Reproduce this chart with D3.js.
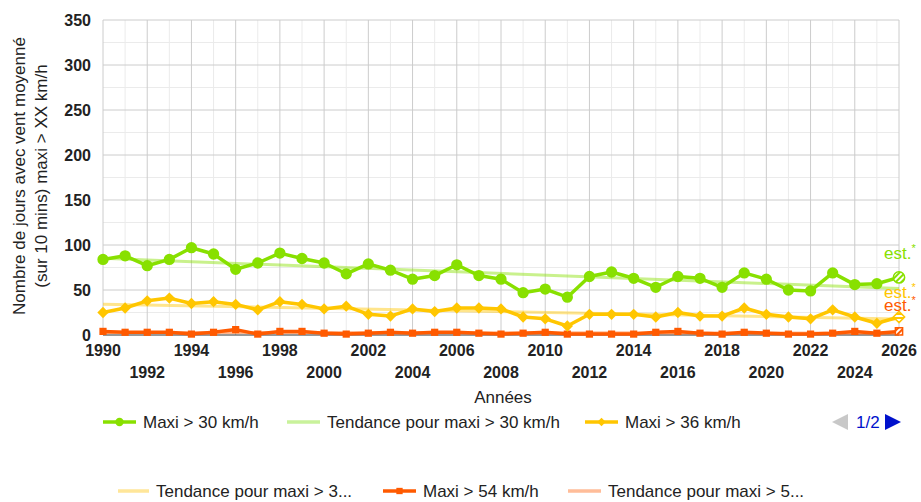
<!DOCTYPE html>
<html>
<head>
<meta charset="utf-8">
<script src="https://cdn.jsdelivr.net/npm/d3@7"></script>
<style>
  body { margin: 0; background: #fff; }
  svg text { font-family: Arial, "Liberation Sans", sans-serif; }
</style>
</head>
<body>
<svg id="chart" width="921" height="502"></svg>
<script>
// data (days per year above threshold)
const years = [1990, 1991, 1992, 1993, 1994, 1995, 1996, 1997, 1998, 1999,
    2000, 2001, 2002, 2003, 2004, 2005, 2006, 2007, 2008, 2009,
    2010, 2011, 2012, 2013, 2014, 2015, 2016, 2017, 2018, 2019,
    2020, 2021, 2022, 2023, 2024, 2025, 2026];
const maxi30 = [84, 88, 77, 84, 97, 90, 73, 80, 91, 85,
    80, 68, 79, 72, 62, 66, 78, 66, 62, 47,
    51, 42, 65, 70, 63, 53, 65, 63, 53, 69,
    62, 50, 49, 69, 56, 57, 64];
const maxi36 = [25, 30, 38, 41, 35, 37, 34, 28, 37, 34,
    29, 32, 23, 21, 29, 26, 30, 30, 29, 20,
    18, 10, 23, 23, 23, 20, 25, 21, 21, 30,
    23, 20, 18, 28, 20, 13, 20];
const maxi54 = [4, 3, 3, 3, 1, 3, 6, 1, 4, 4,
    2, 1, 2, 3, 2, 3, 3, 2, 1, 2,
    3, 1, 1, 1, 1, 3, 4, 2, 1, 3,
    2, 1, 1, 2, 4, 2, 4];
const yTickValues = [0, 50, 100, 150, 200, 250, 300, 350];
const xTickValues = [1990, 1992, 1994, 1996, 1998, 2000, 2002, 2004, 2006, 2008,
    2010, 2012, 2014, 2016, 2018, 2020, 2022, 2024, 2026];
const seriesNames = ['Maxi > 30 km/h', 'Maxi > 36 km/h', 'Maxi > 54 km/h'];
const trendNames = ['Tendance pour maxi > 30 km/h', 'Tendance pour maxi > 3...', 'Tendance pour maxi > 5...'];

const svg = d3.select('#chart');

// geometry
const margin = { top: 20, bottom: 167, left: 103, right: 22 };
const width = +svg.attr('width');
const height = +svg.attr('height');
const innerWidth = width - margin.left - margin.right;
const innerHeight = height - margin.top - margin.bottom;

const xScale = d3.scaleLinear().domain([1990, 2026]).range([0, innerWidth]);
const yScale = d3.scaleLinear().domain([0, 350]).range([innerHeight, 0]);

const colors = ['#88e000', '#ffc600', '#ff5a00'];
const trendColors = ['#c9f29b', '#ffe699', '#ffbd99'];

// hatched patterns for the estimated last point
const defs = svg.append('defs');
colors.forEach((c, i) => {
    const p = defs.append('pattern')
            .attr('id', `hatch${i}`)
            .attr('patternUnits', 'userSpaceOnUse')
            .attr('width', 4)
            .attr('height', 4)
            .attr('patternTransform', 'rotate(45)');
    p.append('rect').attr('width', 4).attr('height', 4).attr('fill', '#fff');
    p.append('rect').attr('width', 2).attr('height', 4).attr('fill', c);
});

const g = svg.append('g')
        .attr('transform', `translate(${margin.left}, ${margin.top})`);

// gridlines
const minorY = d3.range(25, 350, 50);
g.selectAll('line.minory').data(minorY).enter().append('line')
        .attr('x1', 0).attr('x2', innerWidth)
        .attr('y1', d => yScale(d)).attr('y2', d => yScale(d))
        .attr('stroke', '#ebebeb');
const minorX = years.filter(y => y % 2 === 1);
g.selectAll('line.minorx').data(minorX).enter().append('line')
        .attr('x1', d => xScale(d)).attr('x2', d => xScale(d))
        .attr('y1', 0).attr('y2', innerHeight)
        .attr('stroke', '#ebebeb');
g.selectAll('line.majory').data(yTickValues.slice(1)).enter().append('line')
        .attr('x1', 0).attr('x2', innerWidth)
        .attr('y1', d => yScale(d)).attr('y2', d => yScale(d))
        .attr('stroke', '#cccccc');
g.selectAll('line.majorx').data(xTickValues).enter().append('line')
        .attr('x1', d => xScale(d)).attr('x2', d => xScale(d))
        .attr('y1', 0).attr('y2', innerHeight)
        .attr('stroke', '#cccccc');
// baseline
g.append('line')
        .attr('x1', 0).attr('x2', innerWidth)
        .attr('y1', yScale(0)).attr('y2', yScale(0))
        .attr('stroke', '#333');

// y tick labels
g.selectAll('text.ytick').data(yTickValues).enter().append('text')
        .attr('x', -12)
        .attr('y', d => yScale(d) + 6)
        .attr('text-anchor', 'end')
        .attr('font-size', 16)
        .attr('font-weight', 'bold')
        .attr('fill', '#222')
        .text(d => d);

// x tick labels, staggered on two rows
g.selectAll('text.xtick').data(xTickValues).enter().append('text')
        .attr('x', d => xScale(d))
        .attr('y', (d, i) => innerHeight + (i % 2 === 0 ? 21 : 43))
        .attr('text-anchor', 'middle')
        .attr('font-size', 16)
        .attr('font-weight', 'bold')
        .attr('fill', '#222')
        .text(d => d);

// axis titles
svg.append('text')
        .attr('x', 503).attr('y', 403)
        .attr('text-anchor', 'middle')
        .attr('font-size', 17)
        .attr('fill', '#222')
        .text('Années');
const yTitle = svg.append('text')
        .attr('transform', 'translate(0, 176) rotate(-90)')
        .attr('text-anchor', 'middle')
        .attr('font-size', 17)
        .attr('fill', '#222');
yTitle.append('tspan').attr('x', 0).attr('y', 25).text('Nombre de jours avec vent moyenné');
yTitle.append('tspan').attr('x', 0).attr('y', 47).text('(sur 10 mins) maxi > XX km/h');

// trend lines (least squares, like the original chart)
const allSeries = [maxi30, maxi36, maxi54];
const trendG = g.append('g');
allSeries.forEach((values, i) => {
    const mx = d3.mean(years);
    const my = d3.mean(values);
    const slope = d3.sum(years, (x, k) => (x - mx) * (values[k] - my)) /
            d3.sum(years, x => (x - mx) * (x - mx));
    const ends = [years[0], years[years.length - 1]];
    trendG.append('path')
            .datum(ends)
            .attr('fill', 'none')
            .attr('stroke', colors[i])
            .attr('stroke-opacity', 0.45)
            .attr('stroke-width', 3)
            .attr('d', d3.line()
                    .x(d => xScale(d))
                    .y(d => yScale(my + slope * (d - mx))));
});

// series lines and markers (diamond = square turned 45 degrees)
const line = d3.line().x((d, k) => xScale(years[k])).y(d => yScale(d));
const symbols = [d3.symbolCircle, d3.symbolSquare, d3.symbolSquare];
const symbolSizes = [100, 64, 52];
const symbolRotate = [0, 45, 0];
[2, 1, 0].forEach(i => {
    const values = allSeries[i];
    const sg = g.append('g');
    sg.append('path')
            .datum(values)
            .attr('fill', 'none')
            .attr('stroke', colors[i])
            .attr('stroke-width', 3.5)
            .attr('stroke-linejoin', 'round')
            .attr('d', line);
    const last = values.length - 1;
    sg.selectAll('path.pt').data(values).enter().append('path')
            .attr('transform', (d, k) =>
                `translate(${xScale(years[k])}, ${yScale(d)}) rotate(${symbolRotate[i]})`)
            .attr('d', d3.symbol().type(symbols[i]).size(symbolSizes[i]))
            .attr('fill', (d, k) => k === last ? `url(#hatch${i})` : colors[i])
            .attr('stroke', (d, k) => k === last ? colors[i] : 'none')
            .attr('stroke-width', 1.5);
});

// "est.*" annotations at the estimated year
const estY = [259, 298, 311];
estY.forEach((y, i) => {
    const t = svg.append('text')
            .attr('x', 884).attr('y', y)
            .attr('font-size', 17)
            .attr('fill', colors[i]);
    t.append('tspan').text('est.');
    t.append('tspan').attr('font-size', 11).attr('dy', -7).text('*');
});

// legend
const legend = svg.append('g').attr('font-size', 17).attr('fill', '#222');
const legendItems = [
    { x: 103, y: 422, w: 33, color: colors[0], symbol: d3.symbolCircle, size: 55, rot: 0, text: seriesNames[0] },
    { x: 287, y: 422, w: 33, color: trendColors[0], text: trendNames[0] },
    { x: 585, y: 422, w: 33, color: colors[1], symbol: d3.symbolSquare, size: 36, rot: 45, text: seriesNames[1] },
    { x: 118, y: 491, w: 31, color: trendColors[1], text: trendNames[1] },
    { x: 383, y: 491, w: 33, color: colors[2], symbol: d3.symbolSquare, size: 40, rot: 0, text: seriesNames[2] },
    { x: 568, y: 491, w: 33, color: trendColors[2], text: trendNames[2] }
];
legendItems.forEach(d => {
    legend.append('line')
            .attr('x1', d.x).attr('x2', d.x + d.w)
            .attr('y1', d.y).attr('y2', d.y)
            .attr('stroke', d.color)
            .attr('stroke-width', 3.5);
    if (d.symbol) {
        legend.append('path')
                .attr('transform', `translate(${d.x + d.w / 2}, ${d.y}) rotate(${d.rot})`)
                .attr('d', d3.symbol().type(d.symbol).size(d.size))
                .attr('fill', d.color);
    }
    legend.append('text')
            .attr('x', d.x + d.w + 7)
            .attr('y', d.y + 6)
            .text(d.text);
});

// pager
svg.append('path')
        .attr('d', 'M832,422 L848,414 L848,430 Z')
        .attr('fill', '#c8c8c8');
svg.append('text')
        .attr('x', 856).attr('y', 428)
        .attr('font-size', 17)
        .attr('fill', '#0011cc')
        .text('1/2');
svg.append('path')
        .attr('d', 'M885,414 L901,422 L885,430 Z')
        .attr('fill', '#0011cc');
</script>
</body>
</html>
